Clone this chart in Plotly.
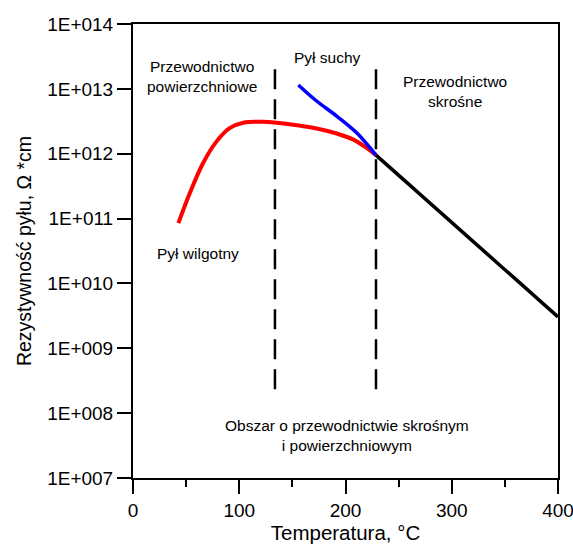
import plotly.graph_objects as go

# Moist dust resistivity (surface conduction dominated)
wet_temp = [42.7, 53.6, 66, 78.7, 91.3, 103.8, 122.6, 135, 154, 172.8, 191.7, 207.4, 219.9, 228.7]
wet_res = [8.5e10, 2.5e11, 7.2e11, 1.55e12, 2.5e12, 3.0e12, 3.1e12, 3.0e12, 2.75e12,
           2.45e12, 2.05e12, 1.65e12, 1.23e12, 9.5e11]

# Dry dust resistivity
dry_temp = [155.6, 172.8, 191.7, 210.5, 228.7]
dry_res = [1.15e13, 6.5e12, 3.8e12, 2.1e12, 9.5e11]

# Volume conduction region
vol_temp = [228.7, 400]
vol_res = [9.5e11, 3.05e9]

# Region boundaries
boundary_temps = [133.6, 228.7]
boundary_res = [2.0e13, 2.1e8]

y_tick_exp = [7, 8, 9, 10, 11, 12, 13, 14]
y_tick_text = ["1E+%03d" % e for e in y_tick_exp]
x_tick_vals = [0, 100, 200, 300, 400]

FONT = "Liberation Sans, Arial, sans-serif"

fig = go.Figure()

for t in boundary_temps:
    fig.add_trace(go.Scatter(
        x=[t, t], y=boundary_res, mode="lines",
        line=dict(color="black", width=2.5, dash="20px,10px"),
        hoverinfo="skip", showlegend=False))

fig.add_trace(go.Scatter(x=vol_temp, y=vol_res, mode="lines",
                         line=dict(color="black", width=3.5), showlegend=False))
fig.add_trace(go.Scatter(x=wet_temp, y=wet_res, mode="lines", line_shape="spline",
                         line=dict(color="#ff0000", width=4), showlegend=False))
fig.add_trace(go.Scatter(x=dry_temp, y=dry_res, mode="lines", line_shape="spline",
                         line=dict(color="#0000ff", width=3.5), showlegend=False))

W, H = 573, 544
L, R, T, B = 133, 15, 24, 66

notes = [
    (202, 76, "Przewodnictwo<br>powierzchniowe"),
    (327.5, 57, "Pył suchy"),
    (455, 91, "Przewodnictwo<br>skrośne"),
    (197.5, 253, "Pył wilgotny"),
    (346.5, 435, "Obszar o przewodnictwie skrośnym<br>i powierzchniowym"),
]
# annotation positions given in pixels, converted to paper coordinates
for px, py, txt in notes:
    fig.add_annotation(x=(px - L) / (W - L - R), y=1 - (py - T) / (H - T - B),
                       xref="paper", yref="paper", text=txt,
                       showarrow=False, xanchor="center", yanchor="middle",
                       font=dict(family=FONT, size=15.5, color="black"))

fig.update_layout(
    width=W, height=H,
    margin=dict(l=L, r=R, t=T, b=B),
    paper_bgcolor="white", plot_bgcolor="white",
    font=dict(family=FONT, color="black"),
    xaxis=dict(
        range=[0, 400], tickvals=x_tick_vals, showgrid=False, zeroline=False,
        showline=True, mirror=True, linecolor="black", linewidth=2,
        ticks="outside", ticklen=14, tickwidth=2, tickcolor="black",
        tickfont=dict(size=19, family=FONT), ticklabeloverflow="allow",
        automargin=False,
        minor=dict(tickvals=[50, 150, 250, 350], ticks="outside", ticklen=7,
                   tickwidth=2, tickcolor="black", showgrid=False),
        title=dict(text="Temperatura, °C", font=dict(size=20.5, family=FONT), standoff=4),
    ),
    yaxis=dict(
        type="log", range=[7, 14],
        tickvals=[10 ** e for e in y_tick_exp], ticktext=y_tick_text,
        showgrid=False, zeroline=False,
        showline=True, mirror=True, linecolor="black", linewidth=2,
        ticks="outside", ticklen=14, tickwidth=2, tickcolor="black",
        tickfont=dict(size=19, family=FONT), automargin=False,
        title=dict(text="Rezystywność pyłu, Ω *cm", font=dict(size=19.5, family=FONT), standoff=10),
    ),
)

fig.write_html("out.html")
